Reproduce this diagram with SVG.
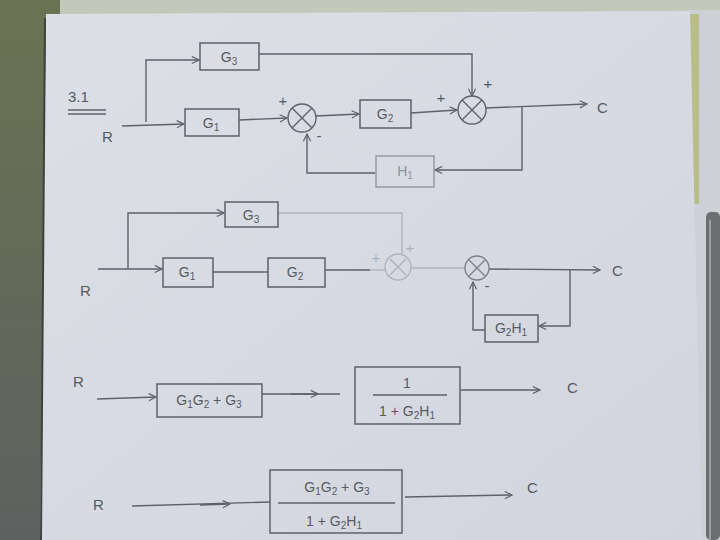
<svg xmlns="http://www.w3.org/2000/svg" width="720" height="540" viewBox="0 0 720 540">
<defs>
<marker id="ah" viewBox="0 0 10 10" refX="9" refY="5" markerWidth="9" markerHeight="9" orient="auto" markerUnits="userSpaceOnUse">
<path d="M1,1 L9,5 L1,9" fill="none" stroke="#5d6169" stroke-width="1.3"/>
</marker>
<linearGradient id="lft" x1="0" y1="0" x2="0" y2="1">
<stop offset="0" stop-color="#6a7352"/><stop offset="1" stop-color="#5d6160"/>
</linearGradient>
<linearGradient id="paper" x1="0" y1="0" x2="1" y2="1">
<stop offset="0" stop-color="#dcdfe6"/><stop offset="1" stop-color="#d2d5dd"/>
</linearGradient>
</defs>
<style>
.ln{fill:none;stroke:#5d6169;stroke-width:1.4}
.fd{fill:none;stroke:#adb1b9;stroke-width:1.3}
.bx{fill:none;stroke:#5d6169;stroke-width:1.5}
.t{font-family:"Liberation Sans",Arial,sans-serif;font-size:14px;fill:#555a62;text-anchor:middle}
.s{font-size:10px}
.lb{font-family:"Liberation Sans",Arial,sans-serif;font-size:15px;fill:#555a62}
.sm{font-family:"Liberation Sans",Arial,sans-serif;font-size:15px;fill:#555a62;text-anchor:middle}
</style>
<rect x="0" y="0" width="720" height="540" fill="url(#lft)"/>
<polygon points="60,0 720,0 720,14 60,14" fill="#c3c8bb"/>
<polygon points="688,10 720,10 720,540 700,540" fill="#cdd1d6"/>
<rect x="690" y="14" width="9" height="190" fill="#b9bd8a"/>
<polygon points="46,14 690,11 702,540 40,540" fill="url(#paper)"/>
<path d="M45,18 L41,540" stroke="#3e423c" stroke-width="2" fill="none"/>
<rect x="706" y="212" width="14" height="328" rx="5" fill="#6c6f72"/>
<path d="M710,220 V540" stroke="#9b9ea0" stroke-width="2"/>

<!-- title -->
<text class="lb" x="68" y="102">3.1</text>
<path class="ln" d="M68,110 H106 M68,114 H106"/>

<g id="connectors">
<!-- Diagram 1 -->
<path class="ln" d="M122,126 L184,124" marker-end="url(#ah)"/>
<path class="ln" d="M146,122 V60 H199" marker-end="url(#ah)"/>
<path class="ln" d="M239,120 L287,118" marker-end="url(#ah)"/>
<path class="ln" d="M316,116 L359,114" marker-end="url(#ah)"/>
<path class="ln" d="M411,113 L457,110" marker-end="url(#ah)"/>
<path class="ln" d="M259,54 H472 V96" marker-end="url(#ah)"/>
<path class="ln" d="M486,108 L587,104" marker-end="url(#ah)"/>
<path class="ln" d="M522,107 V170 H435" marker-end="url(#ah)"/>
<path class="ln" d="M375,173 H307 V134" marker-end="url(#ah)"/>

<!-- Diagram 2 -->
<path class="ln" d="M98,269 L162,269" marker-end="url(#ah)"/>
<path class="ln" d="M128,269 V213 H224" marker-end="url(#ah)"/>
<path class="ln" d="M213,272 H268"/>
<path class="ln" d="M325,270 H370"/>
<path class="fd" d="M278,213 H402 V255"/>
<path class="fd" d="M370,270 H386"/>
<path class="fd" d="M411,268 H465"/>
<path class="ln" d="M489,269 L600,270" marker-end="url(#ah)"/>
<path class="ln" d="M570,270 V326 H539" marker-end="url(#ah)"/>
<path class="ln" d="M485,330 H473 V282" marker-end="url(#ah)"/>

<!-- Diagram 3 -->
<path class="ln" d="M97,399 L156,397" marker-end="url(#ah)"/>
<path class="ln" d="M262,394 L340,394"/>
<path class="ln" d="M290,394 L318,394" marker-end="url(#ah)"/>
<path class="ln" d="M461,390 L540,390" marker-end="url(#ah)"/>

<!-- Diagram 4 -->
<path class="ln" d="M132,506 L270,502"/>
<path class="ln" d="M200,505 L230,504" marker-end="url(#ah)"/>
<path class="ln" d="M405,497 L512,495" marker-end="url(#ah)"/>
</g>

<!-- nodes diagram 1 -->
<text class="lb" x="102" y="142">R</text>
<g id="G3a"><rect class="bx" x="200" y="43" width="59" height="27"/><text class="t" x="229" y="62">G<tspan class="s" dy="3">3</tspan></text></g>
<g id="G1a"><rect class="bx" x="185" y="109" width="54" height="27"/><text class="t" x="211" y="128">G<tspan class="s" dy="3">1</tspan></text></g>
<g id="S1a"><circle class="ln" cx="302" cy="118" r="14"/><path class="ln" d="M292,108 L312,128 M312,108 L292,128"/>
<text class="sm" x="283" y="106">+</text><text class="sm" x="319" y="141">-</text></g>
<g id="G2a"><rect class="bx" x="360" y="100" width="51" height="28"/><text class="t" x="385" y="119">G<tspan class="s" dy="3">2</tspan></text></g>
<g id="S2a"><circle class="ln" cx="472" cy="110" r="14"/><path class="ln" d="M462,100 L482,120 M482,100 L462,120"/>
<text class="sm" x="441" y="103">+</text><text class="sm" x="488" y="89">+</text></g>
<text class="lb" x="597" y="113">C</text>
<g id="H1a"><rect class="fd" x="376" y="156" width="58" height="31" style="stroke:#8d9199"/><text class="t" x="405" y="176" style="fill:#8d9199">H<tspan class="s" dy="3">1</tspan></text></g>

<!-- nodes diagram 2 -->
<text class="lb" x="80" y="296">R</text>
<g id="G3b"><rect class="bx" x="225" y="202" width="53" height="25"/><text class="t" x="251" y="220">G<tspan class="s" dy="3">3</tspan></text></g>
<g id="G1b"><rect class="bx" x="163" y="258" width="50" height="29"/><text class="t" x="187" y="277">G<tspan class="s" dy="3">1</tspan></text></g>
<g id="G2b"><rect class="bx" x="268" y="258" width="57" height="29"/><text class="t" x="295" y="277">G<tspan class="s" dy="3">2</tspan></text></g>
<g id="S1b"><circle class="fd" cx="398" cy="267" r="13"/><path class="fd" d="M390,259 L406,275 M406,259 L390,275"/>
<text class="sm" x="376" y="263" style="fill:#adb1b9">+</text><text class="sm" x="410" y="253" style="fill:#adb1b9">+</text></g>
<g id="S2b"><circle class="ln" cx="477" cy="268" r="12" style="stroke:#7d818a"/><path class="ln" d="M469,260 L485,276 M485,260 L469,276" style="stroke:#7d818a"/>
<text class="sm" x="487" y="291">-</text></g>
<text class="lb" x="612" y="276">C</text>
<g id="G2H1b"><rect class="bx" x="485" y="315" width="53" height="27"/><text class="t" x="511" y="333">G<tspan class="s" dy="3">2</tspan><tspan dy="-3">H</tspan><tspan class="s" dy="3">1</tspan></text></g>

<!-- nodes diagram 3 -->
<text class="lb" x="73" y="387">R</text>
<g id="Ab"><rect class="bx" x="157" y="384" width="105" height="33"/><text class="t" x="209" y="405">G<tspan class="s" dy="3">1</tspan><tspan dy="-3">G</tspan><tspan class="s" dy="3">2</tspan><tspan dy="-3"> + G</tspan><tspan class="s" dy="3">3</tspan></text></g>
<g id="Bb"><rect class="bx" x="355" y="367" width="105" height="57"/><text class="t" x="407" y="388">1</text><path class="ln" d="M373,395 H447"/>
<text class="t" x="407" y="416">1 + G<tspan class="s" dy="3">2</tspan><tspan dy="-3">H</tspan><tspan class="s" dy="3">1</tspan></text></g>
<text class="lb" x="567" y="393">C</text>

<!-- nodes diagram 4 -->
<text class="lb" x="93" y="510">R</text>
<g id="Cc"><rect class="bx" x="270" y="470" width="132" height="63"/>
<text class="t" x="337" y="492">G<tspan class="s" dy="3">1</tspan><tspan dy="-3">G</tspan><tspan class="s" dy="3">2</tspan><tspan dy="-3"> + G</tspan><tspan class="s" dy="3">3</tspan></text>
<path class="ln" d="M278,503 H395"/>
<text class="t" x="334" y="526">1 + G<tspan class="s" dy="3">2</tspan><tspan dy="-3">H</tspan><tspan class="s" dy="3">1</tspan></text></g>
<text class="lb" x="527" y="493">C</text>
</svg>
